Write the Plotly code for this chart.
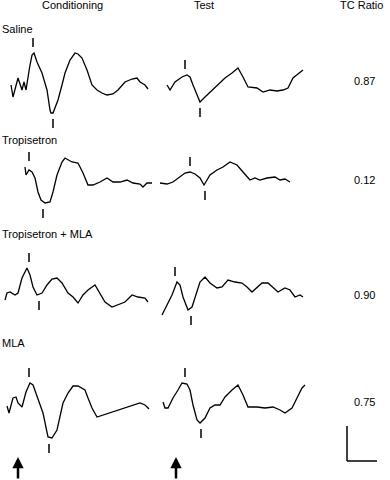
import plotly.graph_objects as go

W, H = 390, 480

CONDITIONS = ["Saline", "Tropisetron", "Tropisetron + MLA", "MLA"]
TC_RATIO = ["0.87", "0.12", "0.90", "0.75"]
COLUMNS = ["Conditioning", "Test"]

# time (ms, stimulus at 0) and amplitude (arbitrary µV)
SAL_C_T = [-14, -10, 0, 8, 12, 16, 24, 28, 32, 38, 48, 58, 64, 66, 70, 80, 88, 94, 104, 114, 120, 128, 138, 148, 158, 168, 178, 190, 200, 214, 228, 238, 244, 254, 260]
SAL_C_V = [0, -12, 7, -5, 3, -5, 20, 30, 32, 23, 12, -5, -25, -28, -28, -15, 0, 12, 25, 32, 31, 27, 15, 0, -5, -8, -10, -9, -5, 3, 6, 7, 3, 0, -4]
SAL_T_T = [-18, -12, -2, 12, 22, 28, 34, 42, 48, 58, 72, 84, 98, 112, 124, 134, 144, 162, 174, 188, 202, 214, 224, 234, 248, 254]
SAL_T_V = [0, -5, 3, 8, 10, 8, 0, -10, -17, -12, -5, 0, 7, 12, 17, 8, -2, -3, -7, -5, -6, -5, -3, 7, 13, 15]

TRO_C_T = [14, 16, 22, 28, 34, 40, 46, 54, 64, 70, 78, 88, 94, 108, 120, 130, 140, 150, 164, 178, 190, 204, 218, 230, 244, 250, 258, 268]
TRO_C_V = [13, 5, 10, 8, 2, -12, -20, -23, -22, -12, 5, 18, 22, 18, 17, 7, -5, -5, -2, 2, -2, -2, 0, -3, -4, -7, -3, -3]
TRO_T_T = [-32, -18, -6, 8, 18, 28, 38, 48, 56, 62, 68, 82, 94, 108, 122, 134, 148, 158, 168, 182, 198, 208, 218, 228]
TRO_T_V = [-3, -4, -2, 3, 7, 8, 6, 2, -5, 0, 5, 10, 13, 18, 15, 8, 0, 2, 0, 2, 3, 0, 1, -2]

TM_C_T = [-26, -22, -16, -6, 0, 8, 18, 24, 30, 38, 48, 58, 68, 78, 88, 100, 110, 120, 130, 140, 154, 164, 174, 188, 200, 214, 228, 240, 254, 260]
TM_C_V = [-8, -1, 0, -3, -1, 14, 24, 17, 5, -3, -1, 7, 13, 14, 9, -1, -5, -11, -3, 2, 7, -1, -10, -15, -13, -10, -3, -5, -6, -10]
TM_T_T = [-28, -18, -8, 2, 8, 14, 24, 32, 42, 48, 58, 68, 82, 92, 104, 118, 132, 142, 152, 162, 172, 184, 194, 204, 218, 228, 238, 248, 254]
TM_T_V = [-23, -13, -3, 10, 7, -5, -18, -15, 0, 10, 15, 9, 4, 5, 12, 10, 9, 5, 0, 5, 9, 9, 4, 0, 4, 2, -5, -3, -5]

MLA_C_T = [-22, -18, -10, -4, 0, 8, 16, 24, 30, 40, 50, 60, 68, 78, 90, 100, 110, 120, 134, 140, 148, 158, 170, 190, 210, 230, 244, 254, 262]
MLA_C_V = [-1, -8, 7, 8, 2, -2, 13, 22, 20, 5, -8, -32, -33, -25, 2, 12, 19, 19, 15, 7, -3, -12, -10, -7, -3, 0, 2, 0, -4]
MLA_T_T = [-26, -22, -16, -6, 4, 12, 22, 28, 34, 42, 48, 58, 68, 78, 88, 98, 112, 124, 134, 144, 162, 178, 194, 208, 218, 232, 242, 252, 258]
MLA_T_V = [3, -3, -3, 7, 15, 22, 21, 15, 0, -15, -18, -13, -3, 0, 0, 8, 15, 20, 10, -2, -2, -3, -2, -5, -8, -3, 7, 17, 20]

# peak / trough latencies (ms) marked with ticks
PEAK_LAT = [[30, 18], [22, 28], [22, -2], [22, 18]]
TROUGH_LAT = [[70, 48], [50, 58], [42, 30], [62, 50]]

TRACES = [
    [(SAL_C_T, SAL_C_V), (SAL_T_T, SAL_T_V)],
    [(TRO_C_T, TRO_C_V), (TRO_T_T, TRO_T_V)],
    [(TM_C_T, TM_C_V), (TM_T_T, TM_T_V)],
    [(MLA_C_T, MLA_C_V), (MLA_T_T, MLA_T_V)],
]

# layout geometry (pixels)
ROW_BASE = [85, 180, 292, 405]
ROW_HALF = 55
COL_LEFT = [0, 155]
COL_W = 155
COL_ORIGIN = [18, 176]
MS_PER_PX = 2.0
FONT = "Liberation Sans, Arial, Helvetica, sans-serif"

fig = go.Figure()
layout = dict(width=W, height=H, margin=dict(l=0, r=0, t=0, b=0),
              paper_bgcolor="white", plot_bgcolor="rgba(0,0,0,0)",
              showlegend=False)

idx = 0
axis_names = {}
for r in range(4):
    for c in range(2):
        idx += 1
        xs = "x" if idx == 1 else f"x{idx}"
        ys = "y" if idx == 1 else f"y{idx}"
        xk = "xaxis" if idx == 1 else f"xaxis{idx}"
        yk = "yaxis" if idx == 1 else f"yaxis{idx}"
        axis_names[(r, c)] = (xs, ys)
        x0 = COL_LEFT[c]
        t0 = (x0 - COL_ORIGIN[c]) * MS_PER_PX
        t1 = (x0 + COL_W - COL_ORIGIN[c]) * MS_PER_PX
        b = ROW_BASE[r]
        layout[xk] = dict(domain=[x0 / W, (x0 + COL_W) / W], range=[t0, t1],
                          visible=False, anchor=ys, fixedrange=True)
        layout[yk] = dict(domain=[1 - (b + ROW_HALF) / H, 1 - (b - ROW_HALF) / H],
                          range=[-ROW_HALF, ROW_HALF], visible=False,
                          anchor=xs, fixedrange=True)
        t, v = TRACES[r][c]
        fig.add_trace(go.Scatter(x=t, y=v, mode="lines", xaxis=xs, yaxis=ys,
                                 line=dict(color="black", width=1.3),
                                 hoverinfo="skip"))
        # tick marks at peak and trough
        pl = PEAK_LAT[r][c]
        tl = TROUGH_LAT[r][c]
        pk = max(vv for tt, vv in zip(t, v) if abs(tt - pl) <= 10)
        tr = min(vv for tt, vv in zip(t, v) if abs(tt - tl) <= 10)
        gap, ln = 6, 9
        fig.add_trace(go.Scatter(
            x=[pl, pl, None, tl, tl],
            y=[pk + gap, pk + gap + ln, None, tr - gap, tr - gap - ln],
            mode="lines", xaxis=xs, yaxis=ys,
            line=dict(color="black", width=1.5), hoverinfo="skip"))

ann = []
# column headers
ann.append(dict(text=COLUMNS[0], x=72 / W, y=1 - 5 / H, xref="paper", yref="paper",
                xanchor="center", yanchor="middle", showarrow=False))
ann.append(dict(text=COLUMNS[1], x=204 / W, y=1 - 5 / H, xref="paper", yref="paper",
                xanchor="center", yanchor="middle", showarrow=False))
ann.append(dict(text="TC Ratio", x=338 / W, y=1 - 5 / H, xref="paper", yref="paper",
                xanchor="left", yanchor="middle", showarrow=False))
LABEL_Y = [29, 140, 234, 343]
VALUE_Y = [81, 180, 295, 402]
for r in range(4):
    ann.append(dict(text=CONDITIONS[r], x=0, y=1 - LABEL_Y[r] / H, xref="paper",
                    yref="paper", xanchor="left", yanchor="middle", showarrow=False))
    ann.append(dict(text=TC_RATIO[r], x=364 / W, y=1 - VALUE_Y[r] / H, xref="paper",
                    yref="paper", xanchor="center", yanchor="middle", showarrow=False))
# stimulus arrows
for c in range(2):
    xs, ys = axis_names[(3, c)]
    ann.append(dict(text="", x=0, y=1 - 457 / H, xref=xs, yref="paper",
                    ax=0, ay=26, axref="pixel", ayref="pixel",
                    showarrow=True, arrowhead=2, arrowsize=0.9, arrowwidth=2.5,
                    arrowcolor="black"))
for a in ann:
    a.setdefault("font", dict(family=FONT, size=11, color="black"))
layout["annotations"] = ann

# scale bar
layout["shapes"] = [
    dict(type="line", xref="paper", yref="paper", x0=347 / W, x1=347 / W,
         y0=1 - 426 / H, y1=1 - 461 / H, line=dict(color="black", width=1.5)),
    dict(type="line", xref="paper", yref="paper", x0=347 / W, x1=377 / W,
         y0=1 - 461 / H, y1=1 - 461 / H, line=dict(color="black", width=1.5)),
]

fig.update_layout(**layout)
fig.write_html("out.html", config={"displayModeBar": False},
               post_script="document.body.style.margin='0';"
                           "document.body.style.padding='0';"
                           "document.body.style.overflow='hidden';")
